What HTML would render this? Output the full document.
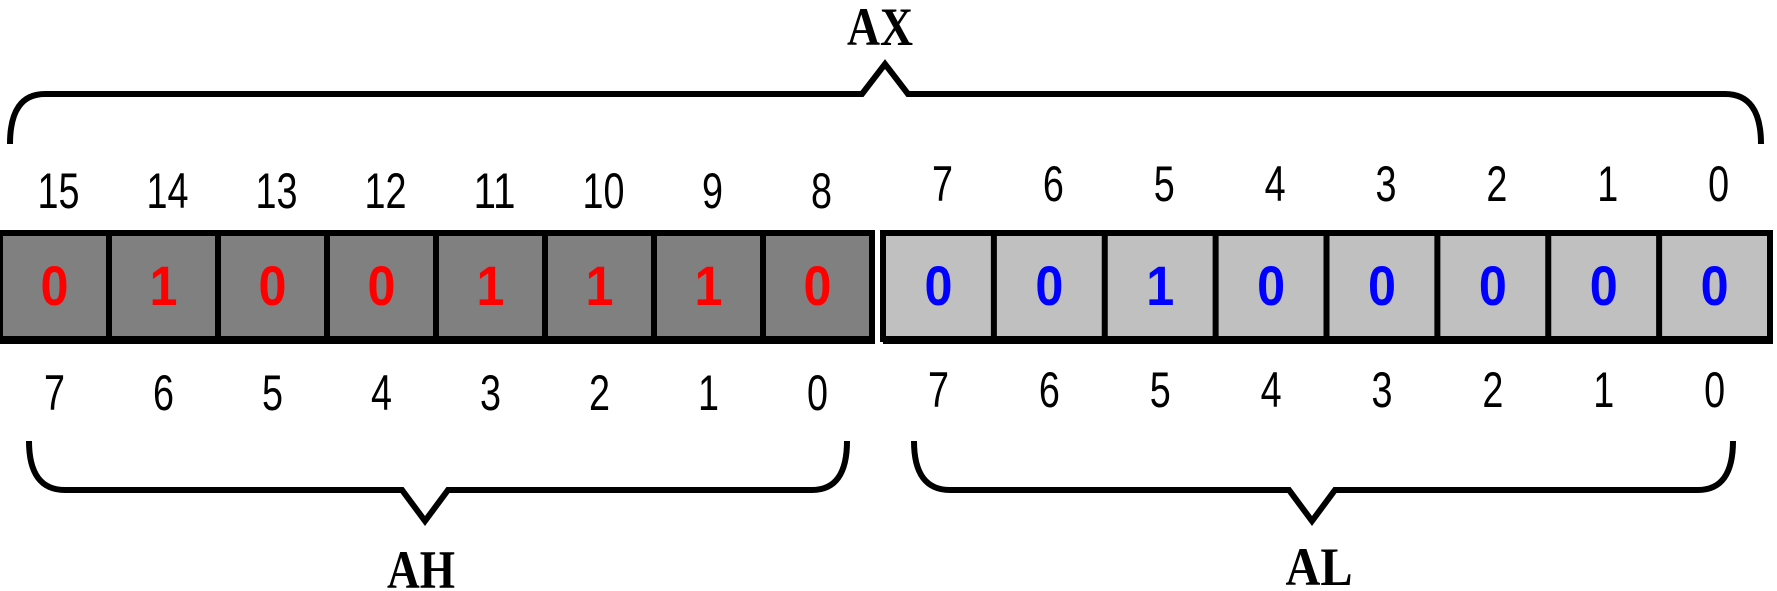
<!DOCTYPE html>
<html><head><meta charset="utf-8"><style>
html,body{margin:0;padding:0;background:#fff;}
svg{display:block;}
text{font-family:"Liberation Sans",sans-serif;}
</style></head><body>
<svg id="chart" width="1777" height="591" viewBox="0 0 1777 591" xmlns="http://www.w3.org/2000/svg">
<g id="braces" fill="none" stroke="#000" stroke-width="6" stroke-linejoin="miter">
  <path d="M10,144 Q10,94 45,94 L862,94 L885,64 L908,94 L1725,94 Q1761,94 1761,144"/>
  <path d="M29,441 Q29,490 65,490 L402,490 L425,521 L448,490 L812,490 Q847,490 847,441"/>
  <path d="M914,441 Q914,490 950,490 L1289,490 L1312,521 L1335,490 L1698,490 Q1733,490 1733,441"/>
</g>
<text x="880" y="45" font-size="54" font-weight="bold" text-anchor="middle" style="font-family:'Liberation Serif',serif" textLength="66" lengthAdjust="spacingAndGlyphs">AX</text>
<text x="421" y="588" font-size="54" font-weight="bold" text-anchor="middle" style="font-family:'Liberation Serif',serif" textLength="68" lengthAdjust="spacingAndGlyphs">AH</text>
<text x="1319" y="585" font-size="54" font-weight="bold" text-anchor="middle" style="font-family:'Liberation Serif',serif" textLength="67" lengthAdjust="spacingAndGlyphs">AL</text>
<g id="cells"></g>
</svg>
<script>
const highBits = [0,1,0,0,1,1,1,0];
const lowBits = [0,0,1,0,0,0,0,0];
const axIndexLabels = ["15","14","13","12","11","10","9","8","7","6","5","4","3","2","1","0"];
const byteIndexLabels = ["7","6","5","4","3","2","1","0"];

const NS = "http://www.w3.org/2000/svg";
const g = document.getElementById('cells');
const cellTop = 233, cellBot = 339;
function mk(tag, attrs){const e=document.createElementNS(NS,tag);for(const k in attrs)e.setAttribute(k,attrs[k]);g.appendChild(e);return e;}
function drawByte(bits, x0, x1, fill, color, side, topOffset){
  const w = (x1-x0)/bits.length;
  const bg = mk('rect',{x:x0,y:cellTop,width:x1-x0,height:cellBot-cellTop,fill:fill,stroke:'#000','stroke-width':6});
  
  
  const bb = mk('rect',{x:x0,y:cellBot-2,width:x1-x0+3,height:7,fill:'#000'});
  
  
  bits.forEach((b,i)=>{
    const cx = x0 + w*i + w/2;
    if(i>0){
      const ln = mk('line',{x1:x0+w*i,y1:cellTop,x2:x0+w*i,y2:cellBot,stroke:'#000','stroke-width':6});
      
      
    }
    const t = mk('text',{x:cx,y:305,'font-size':56,'font-weight':'bold','text-anchor':'middle',fill:color,textLength:28,lengthAdjust:'spacingAndGlyphs'});
    t.textContent = b;
    
    
    const top = mk('text',{x:cx+4,y:topOffset,'font-size':50,'text-anchor':'middle',fill:'#000'});
    top.textContent = axIndexLabels[(side==='ah'?0:8)+i];
    const n = top.textContent.length;
    top.setAttribute('textLength', n*21);
    top.setAttribute('lengthAdjust','spacingAndGlyphs');
    
    
    const bot = mk('text',{x:cx,y:side==='ah'?410:407,'font-size':50,'text-anchor':'middle',fill:'#000',textLength:21,lengthAdjust:'spacingAndGlyphs'});
    bot.textContent = byteIndexLabels[i];
    
    
  });
}
drawByte(highBits, 0, 872, '#808080', '#ff0000', 'ah', 208);
drawByte(lowBits, 883, 1770, '#c0c0c0', '#0000ff', 'al', 201);
</script>
</body></html>
